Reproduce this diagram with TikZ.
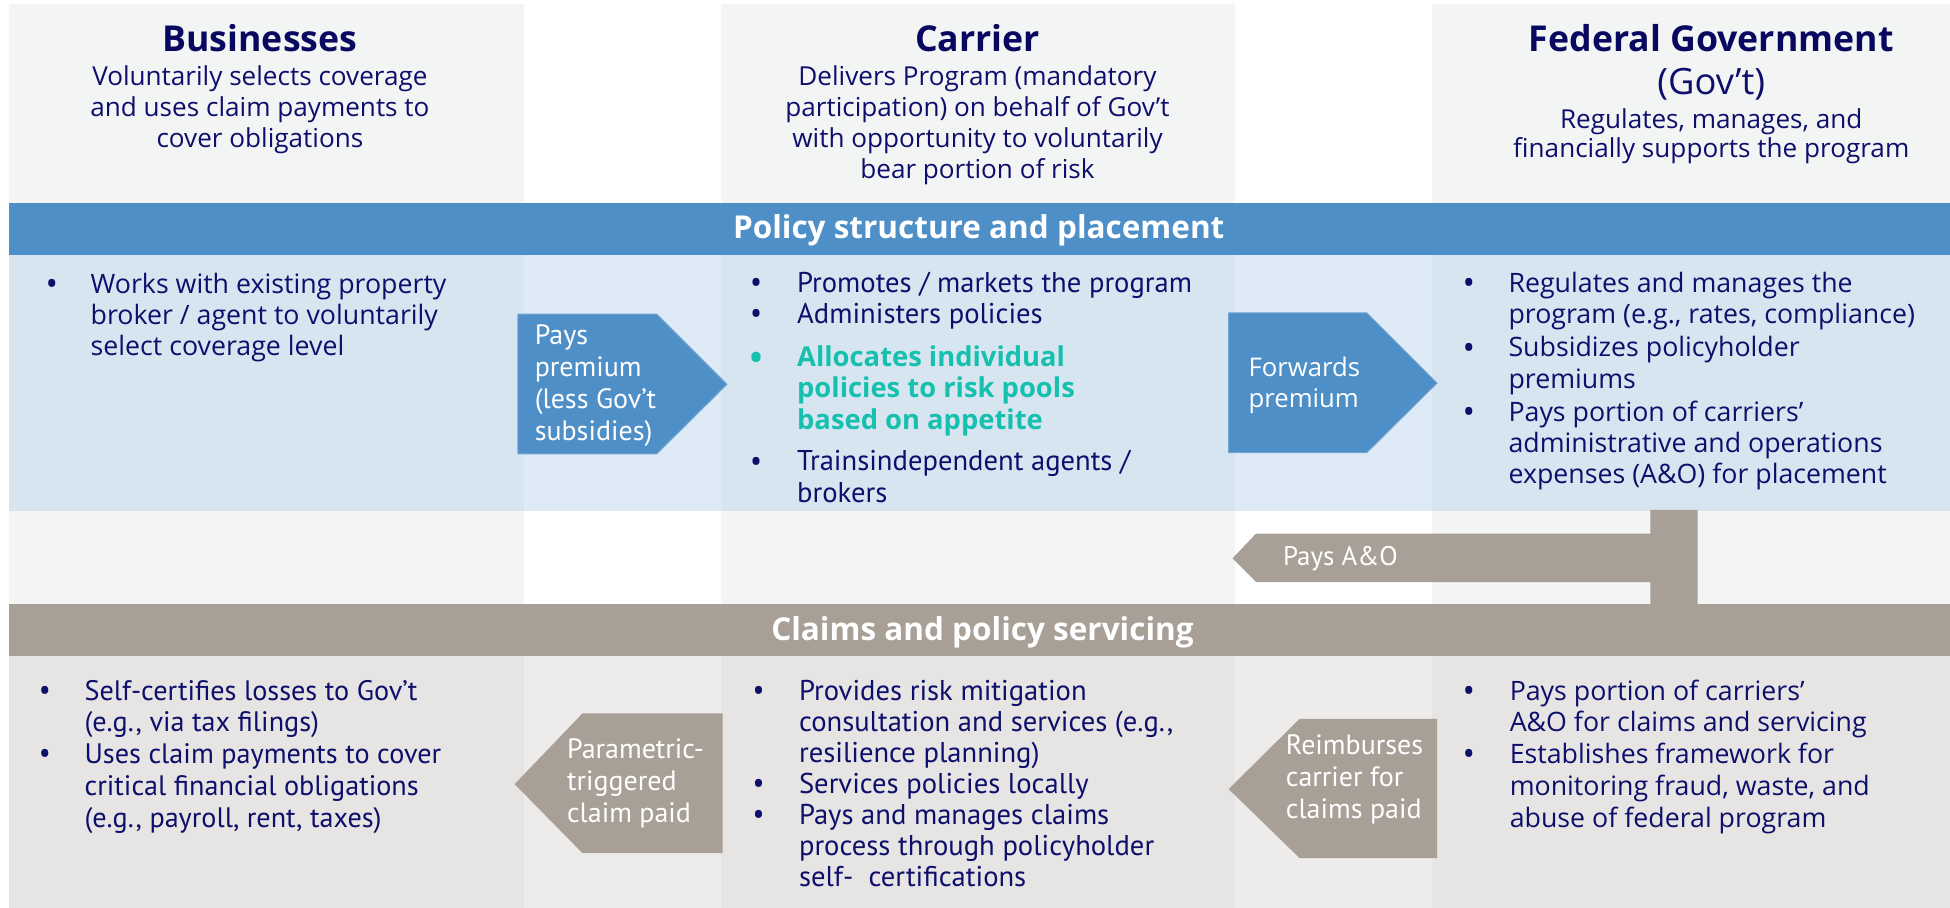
\documentclass[tikz,border=0pt]{standalone}
\usepackage{fontspec}
\setmainfont{Open Sans}
\newfontfamily\narrowfont{PT Sans}
\newfontfamily\bulletfont{Open Sans}

\definecolor{navy}{RGB}{14,14,108}
\definecolor{titlenavy}{RGB}{8,8,96}
\definecolor{teal}{RGB}{22,192,174}
\definecolor{headbg}{RGB}{243,245,244}
\definecolor{bandblue}{RGB}{79,143,199}
\definecolor{bluecol}{RGB}{215,229,240}
\definecolor{bluegap}{RGB}{222,234,245}
\definecolor{bandgrey}{RGB}{168,159,150}
\definecolor{greycol}{RGB}{230,229,227}
\definecolor{greygap}{RGB}{237,236,234}

% bullet column: \bw is the distance from the bullet to the text
\newlength\bw
\newcommand\bl{\makebox[\bw][l]{\smash{\raisebox{-1.1pt}{\bulletfont\fontsize{16}{0}\selectfont\textbullet}}}}
\newcommand\ii{\hspace*{\bw}}
\newcommand\fl{\rule{0pt}{12pt}}
\newcommand\green{\color{teal}\rmfamily\bfseries\fontsize{13.2}{15}\selectfont}

\begin{document}
\begin{tikzpicture}[x=0.6pt,y=-0.6pt,
  every node/.style={inner sep=0pt,outer sep=0pt},
  title/.style={anchor=base,text=titlenavy,font=\fontsize{17.2}{20}\selectfont\bfseries},
  subtitle/.style={anchor=north,align=center,text=navy,font=\fontsize{12.6}{15.1}\selectfont},
  bandtext/.style={anchor=base,text=white,font=\fontsize{15.2}{18}\selectfont\bfseries},
  body/.style={anchor=north west,align=left,text=navy,font=\fontsize{12.9}{15}\selectfont},
  narrowbody/.style={anchor=north west,align=left,text=navy,font=\narrowfont\fontsize{13.8}{15}\selectfont},
  arrowlabel/.style={anchor=north west,align=left,text=white,font=\narrowfont\fontsize{13.5}{15.4}\selectfont},
  bluearrow/.style={fill=bandblue,draw=bandblue!80!white,line width=0.5pt},
  greyarrow/.style={fill=bandgrey}]
\useasboundingbox (0,0) rectangle (1568,730);

% ---- header panels ----
\fill[headbg] (7,3) rectangle (421,163);
\fill[headbg] (580,3) rectangle (993,163);
\fill[headbg] (1151.5,3) rectangle (1568,163);

% ---- policy structure band and section ----
\fill[bandblue] (7,163) rectangle (1568,205);
\fill[bluegap] (7,205) rectangle (1568,411);
\fill[bluecol] (7,205) rectangle (421,411);
\fill[bluecol] (580,205) rectangle (993,411);
\fill[bluecol] (1151.5,205) rectangle (1568,411);

% ---- strip between the two sections ----
\fill[headbg] (7,411) rectangle (421,486);
\fill[headbg] (580,411) rectangle (993,486);
\fill[headbg] (1151.5,411) rectangle (1568,486);

% ---- claims band and section ----
\fill[bandgrey] (7,486) rectangle (1568,527.5);
\fill[greygap] (7,527.5) rectangle (1568,730);
\fill[greycol] (7,527.5) rectangle (421,730);
\fill[greycol] (580,527.5) rectangle (993,730);
\fill[greycol] (1151.5,527.5) rectangle (1568,730);

% ---- column headings ----
\node[title] (bizT) at (209,41.6) {Businesses};
\node[subtitle] (bizS) at (209,48.4) {\fl Voluntarily selects coverage\\and uses claim payments to\\cover obligations};
\node[title] (carT) at (786,41.6) {Carrier};
\node[subtitle] (carS) at (786,48.4) {\fl Delivers Program (mandatory\\participation) on behalf of Gov’t\\with opportunity to voluntarily\\bear portion of risk};
\node[title] (govT) at (1376,41.6) {Federal Government};
\node[anchor=base,text=navy,font=\fontsize{17.5}{20}\selectfont] (govA) at (1376,75.6) {(Gov’t)};
\node[subtitle,font=\fontsize{12.6}{14.4}\selectfont] (govS) at (1376,83) {\fl Regulates, manages, and\\financially supports the program};

% ---- band titles ----
\node[bandtext] (bandP) at (787,192) {Policy structure and placement};
\node[bandtext] (bandC) at (790,515) {Claims and policy servicing};

% ---- policy section bullets ----
\global\bw=21.8pt
\node[body] (bizP) at (36.6,216) {%
  \fl\bl Works with existing property\\
  \ii broker / agent to voluntarily\\
  \ii select coverage level};

\global\bw=22.8pt
\node[narrowbody] (carP) at (603,215) {%
  \fl\bl Promotes / markets the program\\
  \bl Administers policies\\[6pt]
  {\green\bl Allocates individual}\\
  {\green\ii policies to risk pools}\\
  {\green\ii based on appetite}\\[5.2pt]
  \bl Trainsindependent agents /\\
  \ii brokers};

\global\bw=22.2pt
\node[body] (govP) at (1176,215) {%
  \fl\bl Regulates and manages the\\
  \ii program (e.g., rates, compliance)\\[1.2pt]
  \bl Subsidizes policyholder\\
  \ii premiums\\[1.2pt]
  \bl Pays portion of carriers’\\
  \ii administrative and operations\\
  \ii expenses (A\&O) for placement};

% ---- claims section bullets ----
\global\bw=22.2pt
\node[narrowbody,font=\narrowfont\fontsize{13.6}{15.3}\selectfont] (bizC) at (31,543) {%
  \fl\bl Self-certifies losses to Gov’t\\
  \ii (e.g., via tax filings)\\
  \bl Uses claim payments to cover\\
  \ii critical financial obligations\\
  \ii (e.g., payroll, rent, taxes)};

\global\bw=22.5pt
\node[narrowbody] (carC) at (605,543) {%
  \fl\bl Provides risk mitigation\\
  \ii consultation and services (e.g.,\\
  \ii resilience planning)\\
  \bl Services policies locally\\
  \bl Pays and manages claims\\
  \ii process through policyholder\\
  \ii self-~~certifications};

\global\bw=22.8pt
\node[body,font=\fontsize{12.9}{15.3}\selectfont] (govC) at (1176,543) {%
  \fl\bl Pays portion of carriers’\\
  \ii A\&O for claims and servicing\\
  \bl Establishes framework for\\
  \ii monitoring fraud, waste, and\\
  \ii abuse of federal program};

% ---- flow arrows ----
\coordinate (p1) at (416.5,252.5);
\fill[bluearrow] (p1) -- (528,252.5) -- (584.5,309) -- (528,365) -- (416.5,365) -- cycle;
\node[arrowlabel] (payPrem) at (430,257) {\fl Pays\\premium\\(less Gov’t\\subsidies)};

\coordinate (p2) at (988,251.5);
\fill[bluearrow] (p2) -- (1099,251.5) -- (1155.5,308) -- (1099,364) -- (988,364) -- cycle;
\node[body,text=white,font=\fontsize{12.4}{15.3}\selectfont] (fwdPrem) at (1004,282.5) {\fl Forwards\\premium};

\coordinate (p3) at (991,449);
\fill[greyarrow] (p3) -- (1010,429) -- (1327,429) -- (1327,410) -- (1365,410) -- (1365,486) -- (1327,486) -- (1327,468) -- (1010,468) -- cycle;
\node[arrowlabel,font=\narrowfont\fontsize{13}{15}\selectfont] (payAO) at (1031.7,434.5) {\fl Pays A\&O};

\coordinate (p4) at (413.8,630.5);
\fill[greyarrow] (p4) -- (468.4,573.6) -- (581,573.6) -- (581,686) -- (468.4,686) -- cycle;
\node[arrowlabel,font=\narrowfont\fontsize{13.5}{15.6}\selectfont] (paramPaid) at (456,589.7) {\fl Parametric-\\triggered\\claim paid};

\coordinate (p5) at (988,634.5);
\fill[greyarrow] (p5) -- (1045,578) -- (1155.5,578) -- (1155.5,690) -- (1045,690) -- cycle;
\node[arrowlabel] (reimb) at (1034,587) {\fl Reimburses\\carrier for\\claims paid};
\end{tikzpicture}
\end{document}
